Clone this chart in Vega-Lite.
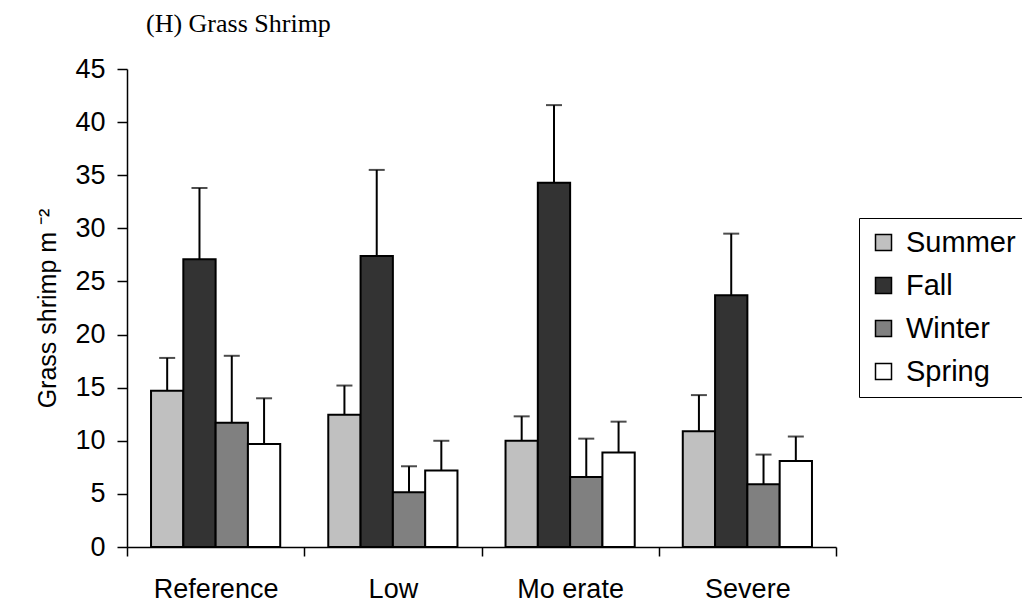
{
  "$schema": "https://vega.github.io/schema/vega-lite/v6.json",
  "width": 709,
  "height": 478,
  "autosize": {"type": "none"},
  "padding": {"left": 127, "top": 69, "right": 186, "bottom": 60},
  "background": "white",
  "title": {"text": "(H) Grass Shrimp", "anchor": "start", "frame": "group", "font": "Liberation Serif", "fontSize": 26, "fontWeight": "normal", "color": "black", "dx": 19, "offset": 18},
  "config": {"view": {"stroke": null}},
  "data": {"values": [
    {"Site": "Reference", "Season": "Summer", "Mean": 14.7, "Upper": 17.8},
    {"Site": "Reference", "Season": "Fall", "Mean": 27.1, "Upper": 33.8},
    {"Site": "Reference", "Season": "Winter", "Mean": 11.7, "Upper": 18.0},
    {"Site": "Reference", "Season": "Spring", "Mean": 9.7, "Upper": 14.0},
    {"Site": "Low", "Season": "Summer", "Mean": 12.45, "Upper": 15.2},
    {"Site": "Low", "Season": "Fall", "Mean": 27.4, "Upper": 35.5},
    {"Site": "Low", "Season": "Winter", "Mean": 5.15, "Upper": 7.6},
    {"Site": "Low", "Season": "Spring", "Mean": 7.2, "Upper": 10.0},
    {"Site": "Mo erate", "Season": "Summer", "Mean": 10.0, "Upper": 12.3},
    {"Site": "Mo erate", "Season": "Fall", "Mean": 34.3, "Upper": 41.6},
    {"Site": "Mo erate", "Season": "Winter", "Mean": 6.6, "Upper": 10.2},
    {"Site": "Mo erate", "Season": "Spring", "Mean": 8.9, "Upper": 11.8},
    {"Site": "Severe", "Season": "Summer", "Mean": 10.9, "Upper": 14.3},
    {"Site": "Severe", "Season": "Fall", "Mean": 23.7, "Upper": 29.5},
    {"Site": "Severe", "Season": "Winter", "Mean": 5.9, "Upper": 8.7},
    {"Site": "Severe", "Season": "Spring", "Mean": 8.1, "Upper": 10.4}
  ]},
  "encoding": {
    "x": {"field": "Site", "type": "nominal", "sort": ["Reference", "Low", "Mo erate", "Severe"],
      "scale": {"paddingInner": 0, "paddingOuter": 0},
      "axis": {"title": null, "tickBand": "extent", "labelAngle": 0, "domainColor": "black", "domainWidth": 1.5, "tickColor": "black", "tickWidth": 1.5, "tickSize": 9, "labelFont": "Liberation Sans", "labelFontSize": 27, "labelColor": "black", "labelPadding": 20}},
    "xOffset": {"field": "Season", "type": "nominal", "sort": ["Summer", "Fall", "Winter", "Spring"],
      "scale": {"paddingInner": 0, "paddingOuter": 0.744}}
  },
  "layer": [
    {
      "mark": {"type": "bar", "stroke": "black", "strokeWidth": 2},
      "encoding": {
        "y": {"field": "Mean", "type": "quantitative", "scale": {"domain": [0, 45], "nice": false},
          "axis": {"values": [0, 5, 10, 15, 20, 25, 30, 35, 40, 45], "grid": false, "domainColor": "black", "domainWidth": 1.5, "tickColor": "black", "tickWidth": 1.5, "tickSize": 10, "labelFont": "Liberation Sans", "labelFontSize": 27, "labelColor": "black", "labelPadding": 12, "title": "Grass shrimp m ⁻²", "titleFont": "Liberation Sans", "titleFontSize": 25, "titleFontWeight": "normal", "titleColor": "black", "titlePadding": 14}},
        "fill": {"field": "Season", "type": "nominal",
          "scale": {"domain": ["Summer", "Fall", "Winter", "Spring"], "range": ["#c0c0c0", "#333333", "#808080", "#ffffff"]},
          "legend": {"orient": "none", "legendX": 732, "legendY": 149, "title": null, "symbolType": "square", "symbolSize": 256, "symbolStrokeColor": "black", "symbolStrokeWidth": 1.5, "symbolOpacity": 1, "labelFont": "Liberation Sans", "labelFontSize": 29, "labelColor": "black", "labelOffset": 8, "rowPadding": 13, "strokeColor": "black", "padding": 10, "fillColor": "white"}}
      }
    },
    {
      "mark": {"type": "rule", "color": "black", "strokeWidth": 2},
      "encoding": {
        "y": {"field": "Mean", "type": "quantitative"},
        "y2": {"field": "Upper"}
      }
    },
    {
      "mark": {"type": "tick", "color": "black", "thickness": 2, "size": 16},
      "encoding": {
        "y": {"field": "Upper", "type": "quantitative"}
      }
    }
  ]
}
